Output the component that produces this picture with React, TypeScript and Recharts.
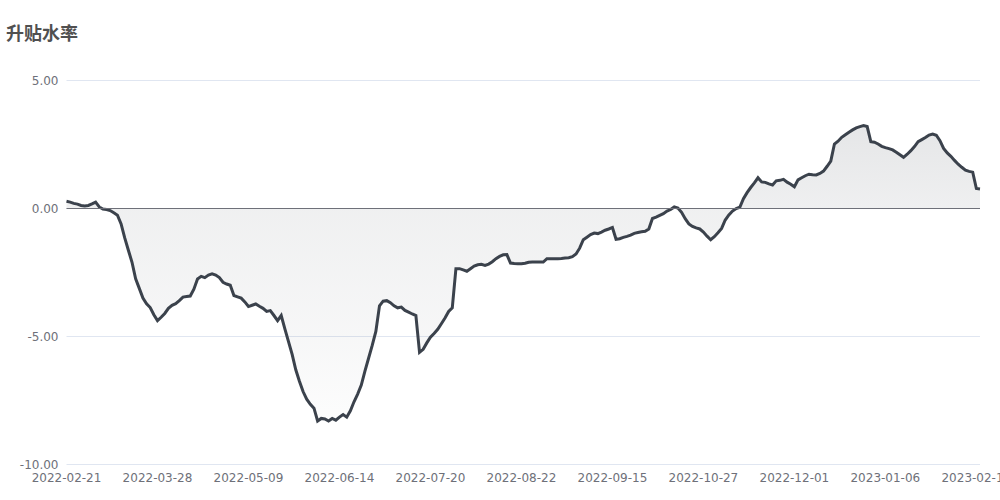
import { AreaChart, Area, XAxis, YAxis, CartesianGrid, ReferenceLine } from 'recharts'

const title = '升贴水率'

// one label every 25 points along the x axis
const tickLabels = [
  '2022-02-21', '2022-03-28', '2022-05-09', '2022-06-14', '2022-07-20', '2022-08-22',
  '2022-09-15', '2022-10-27', '2022-12-01', '2023-01-06', '2023-02-14',
]
const tickStep = 25

const yTicks = [-10, -5, 0, 5]

// 升贴水率 (%), one value per point
const premium = [
  0.28, 0.25, 0.2, 0.17, 0.12, 0.1, 0.12, 0.18, 0.25, 0.06,
  -0.02, -0.04, -0.08, -0.17, -0.26, -0.6, -1.15, -1.63, -2.1, -2.75,
  -3.12, -3.5, -3.72, -3.87, -4.15, -4.38, -4.25, -4.1, -3.9, -3.78,
  -3.72, -3.6, -3.46, -3.44, -3.42, -3.15, -2.75, -2.65, -2.7, -2.6,
  -2.55, -2.6, -2.7, -2.88, -2.95, -3.0, -3.4, -3.45, -3.5, -3.65,
  -3.83, -3.78, -3.73, -3.82, -3.9, -4.02, -3.99, -4.18, -4.38, -4.18,
  -4.7, -5.2, -5.7, -6.3, -6.75, -7.15, -7.45, -7.65, -7.8, -8.3,
  -8.2, -8.22, -8.3, -8.2, -8.27, -8.15, -8.05, -8.15, -7.9, -7.55,
  -7.25, -6.9, -6.35, -5.85, -5.35, -4.8, -3.8, -3.62, -3.6, -3.68,
  -3.8, -3.88, -3.85, -3.98, -4.05, -4.12, -4.18, -5.62, -5.5, -5.25,
  -5.03, -4.88, -4.72, -4.5, -4.28, -4.02, -3.88, -2.35, -2.35, -2.4,
  -2.45, -2.35, -2.25, -2.2, -2.18, -2.22, -2.17, -2.08, -1.96, -1.87,
  -1.81, -1.8, -2.13, -2.15, -2.16, -2.16, -2.14, -2.1, -2.09, -2.09,
  -2.09, -2.09, -1.96, -1.96, -1.96, -1.96, -1.95, -1.93, -1.92, -1.88,
  -1.78, -1.55, -1.22, -1.12, -1.02, -0.96, -0.98, -0.92, -0.85, -0.8,
  -0.74, -1.2, -1.18, -1.13, -1.09, -1.04, -0.97, -0.94, -0.91, -0.89,
  -0.8, -0.39, -0.34, -0.27, -0.2, -0.1, -0.04, 0.06, 0.02, -0.15,
  -0.4, -0.6, -0.7, -0.76, -0.8, -0.92, -1.08, -1.22, -1.1, -0.95,
  -0.78, -0.45, -0.25, -0.1, 0.0, 0.05, 0.38, 0.62, 0.82, 1.0,
  1.2, 1.04, 1.02, 0.96, 0.92, 1.08, 1.1, 1.14, 1.03, 0.95,
  0.85, 1.12, 1.2, 1.28, 1.34, 1.32, 1.31, 1.37, 1.46, 1.65,
  1.85, 2.52, 2.63, 2.78, 2.88, 2.98, 3.07, 3.15, 3.2, 3.24,
  3.2, 2.61, 2.59, 2.52, 2.43, 2.38, 2.34, 2.29, 2.2, 2.1,
  2.0, 2.12, 2.26, 2.42, 2.61, 2.69, 2.77, 2.87, 2.91, 2.86,
  2.65, 2.35, 2.17, 2.04, 1.88, 1.73, 1.61, 1.5, 1.45, 1.42,
  0.78, 0.76,
]

const data = premium.map((v, i) => ({ i, v }))
const xTicks = tickLabels.map((_, k) => k * tickStep)

const axisTick = { fontSize: 12, fill: '#6e7079', fontFamily: '"DejaVu Sans", sans-serif' }

export default function App() {
  return (
    <div style={{ position: 'absolute', left: 0, top: 0, width: 1000, height: 500, background: '#fff' }}>
      <div
        style={{
          position: 'absolute', left: 6, top: 23, fontSize: 18, lineHeight: '18px', fontWeight: 'bold',
          color: '#505050', fontFamily: '"Noto Sans CJK SC", sans-serif', zIndex: 1,
        }}
      >
        {title}
      </div>
      {/* half-pixel offsets keep the 1px grid and zero line crisp */}
      <AreaChart width={1000} height={500} data={data} margin={{ top: 80.5, right: 20, bottom: 0, left: 0 }}>
        <defs>
          <linearGradient id="premiumFill" x1="0" y1="0" x2="0" y2="1">
            <stop offset="0%" stopColor="#3b424c" stopOpacity={0.22} />
            <stop offset="30%" stopColor="#3b424c" stopOpacity={0.13} />
            <stop offset="72%" stopColor="#3b424c" stopOpacity={0.07} />
            <stop offset="100%" stopColor="#3b424c" stopOpacity={0.02} />
          </linearGradient>
        </defs>
        <CartesianGrid vertical={false} stroke="#e0e6f1" />
        <XAxis
          type="number"
          dataKey="i"
          domain={[0, premium.length - 1]}
          ticks={xTicks}
          interval={0}
          tickFormatter={(v: number) => tickLabels[v / tickStep]}
          tick={axisTick}
          axisLine={false}
          tickLine={false}
          height={35.5}
          tickMargin={3}
        />
        <YAxis
          domain={[-10, 5]}
          ticks={yTicks}
          tickFormatter={(v: number) => v.toFixed(2)}
          tick={axisTick}
          axisLine={false}
          tickLine={false}
          width={66.5}
        />
        <Area
          type="linear"
          dataKey="v"
          stroke="#3b424c"
          strokeWidth={3}
          fill="url(#premiumFill)"
          dot={false}
          activeDot={false}
          isAnimationActive={false}
        />
        <ReferenceLine y={0} stroke="#6e7079" />
      </AreaChart>
    </div>
  )
}
